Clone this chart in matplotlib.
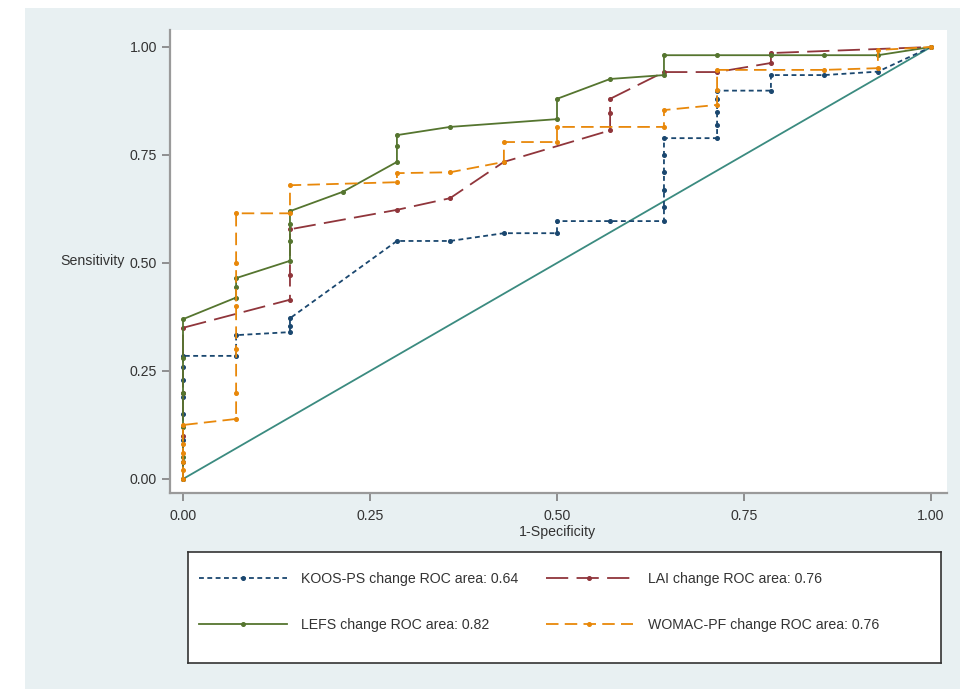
import matplotlib
matplotlib.use("Agg")
import matplotlib.pyplot as plt
from matplotlib.patches import Rectangle

plt.rcParams["font.family"] = ["Liberation Sans", "DejaVu Sans"]
plt.rcParams["lines.scale_dashes"] = False

# ROC points (1-specificity, sensitivity)
koos_fpr = [0, 0, 0, 0, 0, 0, 0, 0, 0.071, 0.071, 0.143, 0.143, 0.143, 0.286, 0.357,
            0.429, 0.5, 0.5, 0.571, 0.643, 0.643, 0.643, 0.643, 0.643, 0.643, 0.714,
            0.714, 0.714, 0.714, 0.714, 0.786, 0.786, 0.857, 0.929, 1]
koos_sens = [0, 0.04, 0.09, 0.15, 0.19, 0.23, 0.26, 0.285, 0.285, 0.333, 0.34, 0.355,
             0.372, 0.551, 0.551, 0.569, 0.569, 0.597, 0.597, 0.597, 0.63, 0.67, 0.71,
             0.75, 0.789, 0.789, 0.82, 0.85, 0.88, 0.899, 0.899, 0.935, 0.935, 0.943, 1]

lai_fpr = [0, 0, 0, 0, 0.143, 0.143, 0.143, 0.286, 0.357, 0.429, 0.571, 0.571, 0.571,
           0.643, 0.714, 0.786, 0.786, 1]
lai_sens = [0, 0.1, 0.2, 0.35, 0.415, 0.472, 0.578, 0.623, 0.65, 0.734, 0.807, 0.847,
            0.88, 0.942, 0.942, 0.963, 0.986, 1]

lefs_fpr = [0, 0, 0, 0, 0, 0, 0.071, 0.071, 0.071, 0.143, 0.143, 0.143, 0.143, 0.214,
            0.286, 0.286, 0.286, 0.357, 0.5, 0.5, 0.571, 0.643, 0.643, 0.714, 0.786,
            0.857, 0.929, 1]
lefs_sens = [0, 0.05, 0.12, 0.2, 0.28, 0.37, 0.42, 0.445, 0.465, 0.505, 0.55, 0.59, 0.62,
             0.665, 0.734, 0.77, 0.796, 0.815, 0.833, 0.88, 0.926, 0.935, 0.981, 0.981,
             0.981, 0.981, 0.981, 1]

womac_fpr = [0, 0, 0, 0, 0, 0, 0.071, 0.071, 0.071, 0.071, 0.071, 0.071, 0.143, 0.143,
             0.286, 0.286, 0.357, 0.429, 0.429, 0.5, 0.5, 0.643, 0.643, 0.714, 0.714,
             0.714, 0.857, 0.929, 0.929, 1]
womac_sens = [0, 0.02, 0.04, 0.06, 0.08, 0.125, 0.139, 0.2, 0.3, 0.4, 0.5, 0.615, 0.615,
              0.68, 0.687, 0.708, 0.71, 0.734, 0.78, 0.78, 0.815, 0.815, 0.854, 0.866,
              0.9, 0.947, 0.947, 0.951, 0.993, 1]

labels = ["KOOS-PS change ROC area: 0.64", "LAI change ROC area: 0.76",
          "LEFS change ROC area: 0.82", "WOMAC-PF change ROC area: 0.76"]
ticks = [0, 0.25, 0.5, 0.75, 1]
tick_labels = ["0.00", "0.25", "0.50", "0.75", "1.00"]

W, H = 973, 689
FS = 10.2
fig = plt.figure(figsize=(W / 100, H / 100), dpi=100)
fig.patch.set_facecolor("white")
# graph region (light bluish gray)
fig.patches.append(Rectangle((25 / W, 0), (960 - 25) / W, (H - 8) / H,
                             transform=fig.transFigure, facecolor="#e8f0f2",
                             edgecolor="none", zorder=-10))

ax = fig.add_axes([170 / W, (H - 493) / H, (947 - 170) / W, (493 - 30) / H])
ax.set_facecolor("white")

styles = [
    dict(color="#1a476f", dashes=(3.5, 2.5)),
    dict(color="#90353b", dashes=(16, 6)),
    dict(color="#55752f", linestyle="-"),
    dict(color="#e8880a", dashes=(9, 4.5)),
]
series = [(koos_fpr, koos_sens), (lai_fpr, lai_sens),
          (lefs_fpr, lefs_sens), (womac_fpr, womac_sens)]

handles = []
for (fx, sy), st, lab in zip(series, styles, labels):
    ln, = ax.plot(fx, sy, lw=1.3, marker="o", markersize=2.6, label=lab, **st)
    handles.append(ln)

# reference line
ax.plot([0, 1], [0, 1], color="#3b8b80", lw=1.3, zorder=1)

ax.set_xlim(-13 / 748, (947 - 183) / 748)
ax.set_ylim(-14 / 432, (479 - 30) / 432)
ax.set_xticks(ticks)
ax.set_xticklabels(tick_labels)
ax.set_yticks(ticks)
ax.set_yticklabels(tick_labels)
ax.tick_params(direction="out", length=6, width=1.2, color="#7f7f7f",
               labelsize=FS, labelcolor="#333333", pad=3.5)
ax.tick_params(axis="x", pad=5.5)
for s in ["top", "right"]:
    ax.spines[s].set_visible(False)
for s in ["left", "bottom"]:
    ax.spines[s].set_color("#9a9a9a")
    ax.spines[s].set_linewidth(1.6)

ax.set_xlabel("1-Specificity", fontsize=FS, color="#333333", va="center")
ax.xaxis.set_label_coords((557 - 170) / 777, (493 - 532) / 463)
ax.set_ylabel("Sensitivity", fontsize=FS, color="#333333", rotation=0,
              ha="right", va="center")
ax.yaxis.set_label_coords((125 - 170) / 777, 0.5)

# legend box
lw_px, lh_px = 941 - 188, 663 - 552
lax = fig.add_axes([188 / W, (H - 663) / H, lw_px / W, lh_px / H])
lax.set_xticks([])
lax.set_yticks([])
lax.set_facecolor("white")
for s in lax.spines.values():
    s.set_color("#333333")
    s.set_linewidth(1.2)
order = [0, 2, 1, 3]
lax.legend([handles[i] for i in order], [labels[i] for i in order], ncol=2,
           loc="upper left", bbox_to_anchor=(5 / lw_px, 1 - 14 / lh_px),
           frameon=False, fontsize=FS, handlelength=6.2, handletextpad=1.0,
           columnspacing=1.95, labelspacing=2.3, borderaxespad=0,
           numpoints=1, labelcolor="#333333")

fig.savefig("out.png", dpi=100)
